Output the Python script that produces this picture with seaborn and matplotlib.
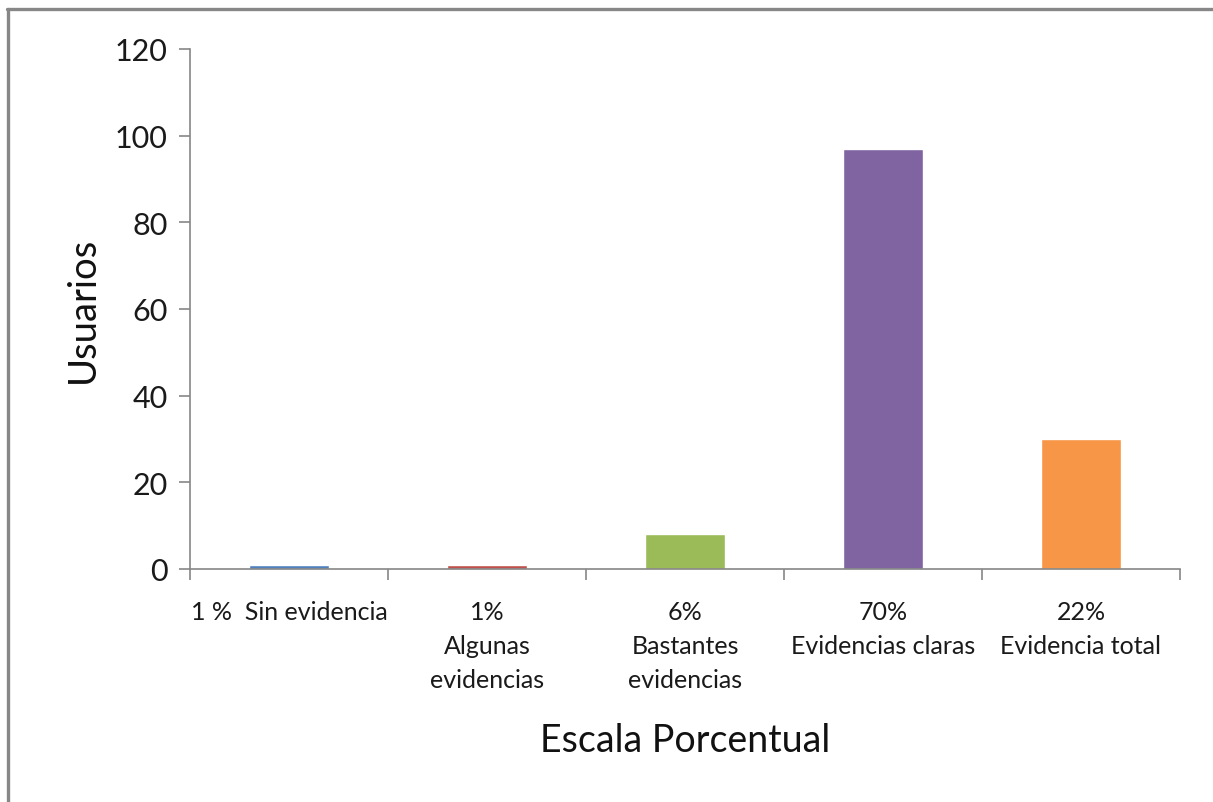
import matplotlib
matplotlib.use("Agg")
import matplotlib.pyplot as plt
from matplotlib.lines import Line2D
import seaborn as sns
import pandas as pd

# Categories, their percentage labels and user counts
categorias = ["Sin evidencia", "Algunas evidencias", "Bastantes evidencias",
              "Evidencias claras", "Evidencia total"]
etiquetas = ["1 %  Sin evidencia", "1%\nAlgunas\nevidencias", "6%\nBastantes\nevidencias",
             "70%\nEvidencias claras", "22%\nEvidencia total"]
usuarios = [1, 1, 8, 97, 30]
colores = ["#4F81BD", "#C0504D", "#9BBB59", "#8064A2", "#F79646"]

sns.set_theme(style="white")
plt.rcParams["font.family"] = ["Lato", "DejaVu Sans"]

W, H = 1213, 803
fig = plt.figure(figsize=(W / 100, H / 100), dpi=100)
ax = fig.add_axes([190 / W, 1 - 570 / H, (1180 - 190) / W, (570 - 50) / H])

df = pd.DataFrame({"categoria": categorias, "usuarios": usuarios})
sns.barplot(data=df, x="categoria", y="usuarios", hue="categoria",
            palette=colores, width=0.4, legend=False, ax=ax, saturation=1)

ax.set_ylim(0, 120)
ax.set_xlim(-0.5, len(categorias) - 0.5)
ax.set_yticks(range(0, 121, 20))

gris = "#868686"
for s in ["top", "right"]:
    ax.spines[s].set_visible(False)
for s in ["left", "bottom"]:
    ax.spines[s].set_color(gris)
    ax.spines[s].set_linewidth(1.2)

# Category labels centred on bars; tick marks sit on the category boundaries
ax.set_xticks(range(len(categorias)))
ax.set_xticklabels(etiquetas, fontsize=18, color="#1a1a1a", linespacing=1.6,
                   va="top")
ax.set_xticks([i - 0.5 for i in range(len(categorias) + 1)], minor=True)
ax.tick_params(axis="x", which="major", length=0, pad=22)
ax.tick_params(axis="x", which="minor", length=8, width=1.2, color=gris,
               direction="out", bottom=True)
ax.tick_params(axis="y", which="major", length=8, width=1.2, color=gris,
               direction="out", left=True, labelsize=22, labelcolor="#1a1a1a",
               pad=8)

ax.set_xlabel("Escala Porcentual", fontsize=27, color="#111111", labelpad=22)
ax.set_ylabel("Usuarios", fontsize=27.5, color="#111111", labelpad=10)

# Grey frame around the chart area
fig.add_artist(Line2D([7 / W, 1], [1 - 9.5 / H, 1 - 9.5 / H],
                      transform=fig.transFigure, color="#878787", lw=2.4))
fig.add_artist(Line2D([7.5 / W, 7.5 / W], [0, 1 - 9.5 / H],
                      transform=fig.transFigure, color="#878787", lw=2.4))

fig.savefig("out.png", dpi=100, facecolor="white")
